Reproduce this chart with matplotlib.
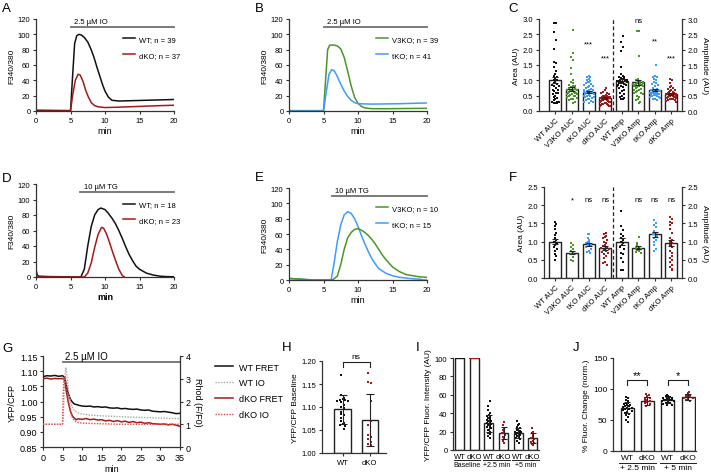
import numpy as np
import matplotlib
matplotlib.use("Agg")
import matplotlib.pyplot as plt

plt.rcParams['font.family'] = ['Liberation Sans', 'DejaVu Sans']
plt.rcParams['axes.linewidth'] = 0.9
plt.rcParams['axes.edgecolor'] = '#333333'

W, H = 711, 477

# ---------------------------------------------------------------- colours
C_WT = '#111111'
C_V3 = '#4a962a'
C_TKO = '#3d9bff'
C_DKO = '#a31a1a'
C_BAR = '#707070'

# ---------------------------------------------------------------- data: A
a_wt_t = [0, 4.9, 5.0, 5.3, 5.6, 5.9, 6.2, 6.6, 7.0, 7.5, 8.0, 8.4, 8.8, 9.3, 9.7, 10.0, 10.5, 11.0, 12, 14, 16, 18, 20]
a_wt_v = [1, 0.5, 0, 45, 88, 98, 100, 99, 96, 90, 80, 70, 58, 44, 33, 26, 18, 14, 13, 13.5, 14, 14.5, 15]
a_dko_t = [0, 5.0, 5.3, 5.7, 6.1, 6.4, 6.8, 7.2, 7.6, 8.0, 8.5, 9.0, 10, 12, 15, 18, 20]
a_dko_v = [0, 0, 20, 40, 48, 47, 39, 27, 18, 11, 7, 5.5, 4.5, 5, 6, 7, 7.5]

# ---------------------------------------------------------------- data: B
b_v3_t = [0, 5.0, 5.3, 5.6, 5.9, 6.5, 7.0, 7.5, 8.0, 8.5, 9.0, 9.5, 10.0, 10.5, 11, 12, 14, 20]
b_v3_v = [0.5, 0.5, 40, 80, 86, 86, 85, 81, 70, 52, 33, 18, 10, 6, 4, 3, 3, 3.5]
b_tko_t = [0, 5.0, 5.4, 5.8, 6.2, 6.6, 7.0, 7.5, 8.0, 8.5, 9.0, 9.5, 10, 12, 16, 20]
b_tko_v = [0, 0, 25, 48, 54, 52, 45, 35, 26, 19, 14, 11, 9.5, 9, 9.5, 10.5]

# ---------------------------------------------------------------- data: D
d_wt_t = [0, 0.15, 0.4, 2, 6.5, 7, 7.5, 8, 8.5, 9.0, 9.4, 10, 10.5, 11, 11.5, 12, 12.5, 13, 13.5, 14, 14.5, 15, 16, 17, 18, 19, 20]
d_wt_v = [10, 3, 1, 0.5, 0, 10, 40, 65, 80, 87, 89, 87, 82, 76, 69, 60, 50, 39, 29, 21, 14, 10, 5, 2.5, 1, 0.5, 0.3]
d_dko_t = [0, 0.2, 0.5, 7, 7.5, 8, 8.5, 9, 9.5, 9.8, 10.2, 10.6, 11, 11.5, 12, 12.5, 12.8]
d_dko_v = [6, 1, 0, 0, 5, 18, 38, 55, 64, 63, 56, 46, 35, 22, 10, 2, 0]

# ---------------------------------------------------------------- data: E
e_tko_t = [0, 3.4, 6.1, 6.5, 7, 7.5, 8, 8.5, 9, 9.5, 10, 10.5, 11, 11.5, 12, 12.5, 13, 14, 15, 16, 17, 18, 19, 19.5, 20]
e_tko_v = [2, 0, 0, 20, 50, 72, 85, 89, 87, 80, 70, 58, 47, 37, 28, 21, 15, 9, 5.5, 3.5, 2.5, 1.5, 1, 0, 0]
e_v3_t = [0, 1, 2, 3.4, 6.3, 7, 7.5, 8, 8.5, 9, 9.5, 10, 10.5, 11, 11.5, 12, 12.5, 13, 13.5, 14, 14.5, 15, 16, 17, 18, 19, 20]
e_v3_v = [2, 1.5, 1, 0, 0, 5, 20, 40, 55, 62, 66, 67, 65, 62, 58, 53, 47, 40, 33, 27, 22, 17, 11, 7, 5.5, 4, 3.5]

# ---------------------------------------------------------------- data: C / F
group_labels = ['WT AUC', 'V3KO AUC', 'tKO AUC', 'dKO AUC', 'WT Amp', 'V3KO Amp', 'tKO Amp', 'dKO Amp']
group_colors = [C_WT, C_V3, C_TKO, C_DKO, C_WT, C_V3, C_TKO, C_DKO]

c_points = [
    [2.87, 2.87, 2.58, 2.33, 2.02, 1.6, 1.55, 1.45, 1.3, 1.2, 1.15, 1.1, 1.05, 1.02, 1.0, 0.95, 0.9, 0.88, 0.85, 0.82,
     0.8, 0.75, 0.7, 0.65, 0.6, 0.55, 0.5, 0.45, 0.42, 0.38, 0.35, 0.3, 0.28, 0.27, 0.25, 0.25, 0.3, 0.6, 0.7],
    [2.65, 1.9, 1.75, 1.67, 1.4, 1.2, 1.0, 0.95, 0.9, 0.85, 0.82, 0.8, 0.78, 0.75, 0.73, 0.7, 0.7, 0.68, 0.66, 0.65,
     0.63, 0.62, 0.6, 0.6, 0.58, 0.56, 0.55, 0.54, 0.52, 0.5, 0.5, 0.48, 0.45, 0.42, 0.4, 0.38, 0.35, 0.3, 0.25],
    [1.15, 1.12, 1.1, 1.05, 1.0, 0.98, 0.95, 0.93, 0.9, 0.88, 0.85, 0.82, 0.8, 0.78, 0.75, 0.72, 0.7, 0.68, 0.65, 0.63,
     0.6, 0.58, 0.55, 0.53, 0.5, 0.48, 0.45, 0.43, 0.4, 0.38, 0.35, 0.33, 0.3, 0.28, 0.25, 0.6, 0.62, 0.55, 0.5, 0.45, 0.7],
    [0.75, 0.68, 0.62, 0.6, 0.58, 0.55, 0.53, 0.5, 0.5, 0.48, 0.47, 0.45, 0.44, 0.43, 0.42, 0.4, 0.4, 0.38, 0.37, 0.36,
     0.35, 0.34, 0.32, 0.3, 0.3, 0.28, 0.27, 0.25, 0.24, 0.23, 0.22, 0.2, 0.18, 0.17, 0.16, 0.15, 0.45],
    [2.45, 2.25, 2.1, 1.95, 1.45, 1.2, 1.15, 1.12, 1.1, 1.08, 1.05, 1.03, 1.0, 1.0, 0.98, 0.97, 0.95, 0.93, 0.92, 0.9,
     0.9, 0.88, 0.86, 0.85, 0.83, 0.8, 0.78, 0.75, 0.7, 0.65, 0.6, 0.55, 0.5, 0.45, 0.42, 0.4, 0.4, 0.95, 1.0],
    [2.62, 2.6, 1.78, 1.05, 1.0, 0.98, 0.95, 0.93, 0.92, 0.9, 0.9, 0.88, 0.87, 0.86, 0.85, 0.84, 0.83, 0.82, 0.8, 0.78,
     0.75, 0.72, 0.7, 0.68, 0.65, 0.62, 0.6, 0.58, 0.55, 0.5, 0.45, 0.4, 0.35, 0.3, 0.25, 0.9, 0.88, 0.8, 0.95],
    [1.5, 1.15, 1.12, 1.1, 1.05, 1.0, 0.95, 0.9, 0.88, 0.85, 0.8, 0.75, 0.72, 0.7, 0.68, 0.65, 0.63, 0.62, 0.6, 0.6,
     0.58, 0.57, 0.56, 0.55, 0.55, 0.54, 0.53, 0.52, 0.5, 0.5, 0.48, 0.47, 0.45, 0.43, 0.4, 0.38, 0.35, 0.6, 0.58, 0.65, 0.7],
    [1.05, 1.0, 0.9, 0.8, 0.78, 0.75, 0.72, 0.7, 0.68, 0.65, 0.63, 0.62, 0.6, 0.58, 0.57, 0.56, 0.55, 0.54, 0.53, 0.52,
     0.5, 0.5, 0.48, 0.47, 0.46, 0.45, 0.44, 0.43, 0.42, 0.4, 0.4, 0.38, 0.36, 0.35, 0.33, 0.3, 0.5],
]
c_means = [1.02, 0.72, 0.62, 0.42, 0.98, 0.93, 0.68, 0.55]
c_sem = [0.10, 0.07, 0.04, 0.03, 0.07, 0.08, 0.04, 0.03]
c_sig = [None, None, '***', '***', None, 'ns', '**', '***']
c_sig_y = [0, 0, 2.2, 1.72, 0, 2.95, 2.28, 1.72]

f_points = [
    [1.55, 1.48, 1.42, 1.35, 1.25, 1.18, 1.1, 1.05, 1.0, 0.98, 0.95, 0.9, 0.85, 0.8, 0.75, 0.65, 0.6, 0.5],
    [0.95, 0.92, 0.85, 0.8, 0.75, 0.7, 0.65, 0.58, 0.5, 0.48],
    [1.22, 1.2, 1.1, 1.05, 1.0, 0.98, 0.95, 0.92, 0.9, 0.88, 0.85, 0.8, 0.75, 0.72, 0.7],
    [1.25, 1.22, 1.15, 1.12, 1.1, 1.05, 1.0, 0.95, 0.9, 0.88, 0.85, 0.82, 0.8, 0.78, 0.75, 0.72, 0.7, 0.65, 0.6,
     0.55, 0.45, 0.4, 0.35],
    [1.85, 1.42, 1.32, 1.2, 1.15, 1.1, 1.05, 1.0, 0.95, 0.9, 0.85, 0.8, 0.7, 0.65, 0.55, 0.45, 0.22, 0.22],
    [1.12, 0.95, 0.9, 0.85, 0.82, 0.8, 0.78, 0.75, 0.72, 0.7],
    [1.6, 1.5, 1.45, 1.4, 1.3, 1.25, 1.22, 1.2, 1.15, 1.1, 1.05, 1.0, 0.9, 0.8, 0.75],
    [1.68, 1.62, 1.55, 1.5, 1.45, 1.35, 1.25, 1.1, 1.05, 1.0, 0.95, 0.9, 0.85, 0.75, 0.7, 0.6, 0.55, 0.5, 0.45,
     0.35, 0.3, 0.25, 0.22],
]
f_means = [1.0, 0.70, 0.93, 0.82, 1.0, 0.83, 1.2, 0.96]
f_sem = [0.07, 0.05, 0.04, 0.05, 0.10, 0.04, 0.06, 0.09]
f_sig = [None, '*', 'ns', 'ns', None, 'ns', 'ns', 'ns']

# ---------------------------------------------------------------- data: G
g_t = [0, 1, 2, 3, 4, 5, 5.5, 6, 6.5, 7, 7.5, 8, 8.5, 9, 10, 11, 12, 13, 14, 15, 16, 17, 18, 19, 20,
       21, 22, 23, 24, 25, 26, 27, 28, 29, 30, 31, 32, 33, 34, 35]
g_wt_fret = [1.082, 1.085, 1.084, 1.086, 1.083, 1.085, 1.08, 1.05, 1.025, 1.008, 0.998, 0.992, 0.99, 0.988, 0.985,
             0.984, 0.985, 0.982, 0.983, 0.981, 0.982, 0.979, 0.978, 0.979, 0.976, 0.977, 0.975, 0.974, 0.975,
             0.972, 0.971, 0.972, 0.968, 0.967, 0.966, 0.967, 0.965, 0.963, 0.96, 0.961]
g_dko_fret = [1.075, 1.077, 1.074, 1.076, 1.075, 1.076, 1.07, 1.03, 0.995, 0.968, 0.952, 0.945, 0.94, 0.943, 0.941,
              0.944, 0.94, 0.942, 0.939, 0.94, 0.936, 0.938, 0.934, 0.937, 0.933, 0.935, 0.931, 0.934, 0.93,
              0.932, 0.928, 0.93, 0.927, 0.926, 0.925, 0.926, 0.923, 0.925, 0.922, 0.918]
g_io_t_wt = [0, 5.0, 5.2, 5.5, 5.8, 6.1, 6.5, 7, 7.5, 8, 9, 10, 12, 15, 20, 25, 30, 35]
g_wt_io = [1.0, 1.0, 1.3, 2.8, 3.5, 3.2, 2.5, 2.0, 1.75, 1.6, 1.5, 1.45, 1.4, 1.37, 1.33, 1.3, 1.27, 1.25]
g_io_t_dko = [0, 5.0, 5.1, 5.3, 5.6, 6, 6.5, 7, 7.5, 8, 9, 10, 15, 20, 25, 30, 35]
g_dko_io = [1.0, 1.0, 2.0, 3.0, 3.1, 2.7, 2.1, 1.6, 1.3, 1.15, 1.08, 1.05, 1.02, 1.0, 1.0, 1.0, 1.0]

# ---------------------------------------------------------------- data: H
h_labels = ['WT', 'dKO']
h_wt = [1.17, 1.125, 1.12, 1.118, 1.115, 1.115, 1.113, 1.112, 1.11, 1.105, 1.1, 1.098, 1.09, 1.085, 1.082,
        1.075, 1.07, 1.065, 1.063, 1.06, 1.058, 1.052]
h_dko = [1.173, 1.155, 1.152, 1.113, 1.07, 1.06, 1.04, 1.035, 1.03, 1.025, 1.02, 1.018]
h_means = [1.095, 1.072]
h_sd = [0.032, 0.057]

# ---------------------------------------------------------------- data: I
i_labels = ['WT', 'dKO', 'WT', 'dKO', 'WT', 'dKO']
i_groups = ['Baseline', '+2.5 min', '+5 min']
i_points = [
    [100] * 24,
    [100] * 12,
    [53, 48, 43, 40, 38, 37, 36, 35, 34, 33, 32, 31, 30, 29, 28, 27, 26, 25, 24, 22, 20, 19, 17, 15, 13],
    [30, 27, 24, 22, 20, 19, 18, 16, 14, 12, 10, 8],
    [31, 28, 27, 25, 24, 23, 22, 21, 20, 20, 19, 18, 17, 16, 15, 14, 13, 12, 10, 8],
    [24, 20, 18, 16, 14, 13, 12, 10, 9, 8, 6, 5],
]
i_means = [100, 100, 29, 19, 18.5, 13]
i_sd = [0, 0, 9.5, 6.5, 5.5, 5]

# ---------------------------------------------------------------- data: J
j_labels = ['WT', 'dKO', 'WT', 'dKO']
j_groups = ['+ 2.5 min', '+ 5 min']
j_points = [
    [87, 85, 83, 80, 78, 77, 76, 75, 74, 73, 72, 71, 70, 69, 68, 67, 66, 65, 63, 62, 60, 58, 55, 50, 47],
    [92, 90, 88, 86, 85, 83, 82, 80, 79, 77, 76, 72],
    [90, 89, 88, 87, 86, 85, 84, 84, 83, 83, 82, 82, 81, 80, 79, 78, 77, 76, 75, 74],
    [95, 93, 91, 90, 89, 88, 87, 86, 85, 84, 82, 80],
]
j_means = [70, 81, 82, 87]
j_sd = [9, 6, 5, 5]
j_sig = ['**', '*']


# ---------------------------------------------------------------- helpers
fig = plt.figure(figsize=(W / 100, H / 100), dpi=100)


def add_ax(x0, y0, x1, y1):
    return fig.add_axes([x0 / W, 1 - y1 / H, (x1 - x0) / W, (y1 - y0) / H])


def style(ax, fs=5.5):
    ax.spines['top'].set_visible(False)
    ax.spines['right'].set_visible(False)
    ax.tick_params(labelsize=fs, length=2.5, width=0.8, color='#333333', pad=1.5)


def swarm(vals, center, half, bin_h, step):
    # spread points sharing a value band sideways, like a Prism scatter-dot column
    vals = np.asarray(vals, dtype=float)
    xs = np.full(len(vals), float(center))
    bins = np.floor(vals / bin_h).astype(int)
    for b in np.unique(bins):
        idx = np.where(bins == b)[0]
        n = len(idx)
        if n == 1:
            xs[idx] = center + (0.5 * step if b % 2 else -0.5 * step)
            continue
        s = min(step, 2 * half / (n - 1))
        offs = (np.arange(n) - (n - 1) / 2) * s
        xs[idx] = center + offs[np.argsort(np.abs(offs))]
    return xs


def trace_panel(ax, series, bar_x0, bar_label, bold_x=False):
    for t, v, c, lab in series:
        ax.plot(t, v, color=c, lw=1.1, label=lab)
    ax.set_xlim(0, 20)
    ax.set_ylim(0, 120)
    ax.set_xticks([0, 5, 10, 15, 20])
    ax.set_yticks([0, 20, 40, 60, 80, 100, 120])
    ax.plot([bar_x0, 20], [110, 110], color=C_BAR, lw=1.3, clip_on=False)
    ax.text(bar_x0 + 0.5, 112, bar_label, fontsize=5.5, va='bottom', ha='left')
    ax.set_ylabel('F340/380', fontsize=6, labelpad=2)
    ax.set_xlabel('min', fontsize=6.5, labelpad=2, fontweight='bold' if bold_x else 'normal')
    style(ax)
    ax.legend(loc='upper left', bbox_to_anchor=(0.6, 0.86), frameon=False, fontsize=5.5,
              handlelength=1.6, labelspacing=1.1, borderpad=0, handletextpad=0.6)


def dot_bar_panel(ax, points, means, sem, ymax, xlim, sig, sig_y, ylabel_l, ylabel_r):
    x = np.arange(len(points))
    ax.bar(x, means, width=0.72, color='white', edgecolor='#222222', linewidth=1.0, zorder=1)
    for i, pts in enumerate(points):
        xs = swarm(pts, i, 0.3, ymax / 22, 0.11)
        ax.scatter(xs, pts, s=2.5, marker='s', color=group_colors[i], linewidths=0, zorder=3)
    ax.errorbar(x, means, yerr=sem, fmt='none', ecolor='#222222', elinewidth=0.8, capsize=2, capthick=0.8, zorder=4)
    ax.axvline(3.5, color='#222222', lw=0.9, ls=(0, (3, 2)))
    for i, s in enumerate(sig):
        if s:
            ax.text(i, sig_y[i], s, ha='center', va='center', fontsize=5.5)
    ax.set_xlim(*xlim)
    ax.set_ylim(0, ymax)
    ticks = np.arange(0, ymax + 0.01, 0.5)
    ax.set_yticks(ticks)
    ax.set_yticklabels([f'{t:.1f}' for t in ticks])
    ax.set_xticks(x)
    ax.set_xticklabels(group_labels, rotation=45, ha='right', rotation_mode='anchor')
    ax.set_ylabel(ylabel_l, fontsize=6, labelpad=2)
    style(ax)
    ax2 = ax.twinx()
    ax2.set_ylim(0, ymax)
    ax2.set_yticks(ticks)
    ax2.set_yticklabels([f'{t:.1f}' for t in ticks])
    for sp in ['top', 'left', 'bottom']:
        ax2.spines[sp].set_visible(False)
    ax2.tick_params(labelsize=5.5, length=2.5, width=0.8, color='#333333', pad=1.5)
    ax2.set_ylabel(ylabel_r, fontsize=6, rotation=270, labelpad=7)


# ---------------------------------------------------------------- A
axA = add_ax(36, 20, 174, 112)
trace_panel(axA, [(a_wt_t, a_wt_v, C_WT, 'WT; n = 39'), (a_dko_t, a_dko_v, C_DKO, 'dKO; n = 37')],
            5, '2.5 µM IO')

# ---------------------------------------------------------------- B
axB = add_ax(289, 20, 427, 112)
trace_panel(axB, [(b_v3_t, b_v3_v, C_V3, 'V3KO; n = 39'), (b_tko_t, b_tko_v, C_TKO, 'tKO; n = 41')],
            5, '2.5 µM IO')

# ---------------------------------------------------------------- C
axC = add_ax(539, 20, 682, 112)
dot_bar_panel(axC, c_points, c_means, c_sem, 3.0, (-0.99, 7.64), c_sig, c_sig_y, 'Area (AU)', 'Amplitude (AU)')

# ---------------------------------------------------------------- D
axD = add_ax(36, 185, 174, 278)
trace_panel(axD, [(d_wt_t, d_wt_v, C_WT, 'WT; n = 18'), (d_dko_t, d_dko_v, C_DKO, 'dKO; n = 23')],
            6.4, '10 µM TG', bold_x=True)

# ---------------------------------------------------------------- E
axE = add_ax(289, 189, 427, 281)
trace_panel(axE, [(e_tko_t, e_tko_v, C_TKO, 'tKO; n = 15'), (e_v3_t, e_v3_v, C_V3, 'V3KO; n = 10')],
            6.2, '10 µM TG')
hE, lE = axE.get_legend_handles_labels()
axE.legend(hE[::-1], lE[::-1], loc='upper left', bbox_to_anchor=(0.6, 0.86), frameon=False, fontsize=5.5,
           handlelength=1.6, labelspacing=1.1, borderpad=0, handletextpad=0.6)

# ---------------------------------------------------------------- F
axF = add_ax(544, 188, 682, 279)
dot_bar_panel(axF, f_points, f_means, f_sem, 2.5, (-0.69, 7.64), f_sig, [2.15] * 8, 'Area (AU)', 'Amplitude (AU)')

# ---------------------------------------------------------------- G
axG = add_ax(43, 357, 180, 448)
axG.plot(g_t, g_wt_fret, color=C_WT, lw=1.1, label='WT FRET', zorder=3)
axG.plot(g_t, g_dko_fret, color=C_DKO, lw=1.1, label='dKO FRET', zorder=3)
axG.set_xlim(0, 35)
axG.set_ylim(0.85, 1.15)
axG.set_xticks(range(0, 36, 5))
gy = [0.85, 0.90, 0.95, 1.00, 1.05, 1.10, 1.15]
axG.set_yticks(gy)
axG.set_yticklabels([f'{v:.2f}' for v in gy])
axG.set_ylabel('YFP/CFP', fontsize=6.5, labelpad=2)
axG.set_xlabel('min', fontsize=6.5, labelpad=2)
style(axG, 6.5)
axG.plot([5, 35], [1.13, 1.13], color=C_BAR, lw=1.3, clip_on=False)
axG.text(5.5, 1.133, '2.5 µM IO', fontsize=7, va='bottom')
axG2 = axG.twinx()
axG2.plot(g_io_t_wt, g_wt_io, color='#a8a8a8', lw=1.0, ls=(0, (1, 1)), label='WT IO')
axG2.plot(g_io_t_dko, g_dko_io, color='#e8454a', lw=1.0, ls=(0, (1, 1)), label='dKO IO')
axG2.set_ylim(0, 4)
axG2.set_yticks([0, 1, 2, 3, 4])
for sp in ['top', 'left', 'bottom']:
    axG2.spines[sp].set_visible(False)
axG2.tick_params(labelsize=6.5, length=2.5, width=0.8, color='#333333', pad=1.5)
axG2.set_ylabel('Rhod (F/F0)', fontsize=6.5, rotation=270, labelpad=8)
h1, l1 = axG.get_legend_handles_labels()
h2, l2 = axG2.get_legend_handles_labels()
fig.legend([h1[0], h2[0], h1[1], h2[1]], [l1[0], l2[0], l1[1], l2[1]], loc='upper left',
           bbox_to_anchor=(210 / W, 1 - 359 / H), frameon=False, fontsize=6.5, handlelength=2.0,
           labelspacing=0.75, borderpad=0, handletextpad=0.7)

# ---------------------------------------------------------------- H
axH = add_ax(322, 362, 386, 454)
hx = np.arange(2)
axH.bar(hx, np.array(h_means) - 1.0, bottom=1.0, width=0.59, color='white', edgecolor='#222222', lw=1.0)
for i, (pts, c) in enumerate(zip([h_wt, h_dko], [C_WT, C_DKO])):
    axH.scatter(swarm(pts, i, 0.25, 0.008, 0.1), pts, s=2.5, marker='s', color=c, linewidths=0, zorder=3)
axH.errorbar(hx, h_means, yerr=h_sd, fmt='none', ecolor='#222222', elinewidth=0.8, capsize=3, capthick=0.8, zorder=4)
axH.set_xlim(-0.75, 1.59)
axH.set_ylim(1.0, 1.2)
axH.set_yticks([1.00, 1.05, 1.10, 1.15, 1.20])
axH.set_yticklabels(['1.00', '1.05', '1.10', '1.15', '1.20'])
axH.set_xticks(hx)
axH.set_xticklabels(h_labels)
axH.set_ylabel('YFP/CFP Baseline', fontsize=6, labelpad=2)
style(axH)
axH.plot([0, 0, 1, 1], [1.186, 1.197, 1.197, 1.186], color='#222222', lw=0.8, clip_on=False)
axH.text(0.5, 1.203, 'ns', ha='center', va='bottom', fontsize=6)

# ---------------------------------------------------------------- I
axI = add_ax(453, 359, 539, 451)
ix = np.arange(6)
i_cols = [C_WT, C_DKO] * 3
axI.bar(ix, i_means, width=0.62, color='white', edgecolor='#222222', lw=1.0)
for i, pts in enumerate(i_points):
    axI.scatter(swarm(pts, i, 0.27, 4.0, 0.1), pts, s=2.5, marker='s', color=i_cols[i], linewidths=0, zorder=3)
axI.errorbar(ix[2:], i_means[2:], yerr=i_sd[2:], fmt='none', ecolor='#222222', elinewidth=0.8, capsize=2,
             capthick=0.8, zorder=4)
axI.set_xlim(-0.46, 5.43)
axI.set_ylim(0, 100)
axI.set_yticks(range(0, 101, 20))
axI.set_xticks(ix)
axI.set_xticklabels(i_labels)
axI.set_ylabel('YFP/CFP Fluor. Intensity (AU)', fontsize=6, labelpad=2)
style(axI, 5.5)
axI.tick_params(axis='x', length=0, pad=2)
tI = axI.get_xaxis_transform()
for g, name in enumerate(i_groups):
    axI.plot([2 * g - 0.42, 2 * g + 1.42], [-0.105, -0.105], color='#222222', lw=0.7, transform=tI, clip_on=False)
    axI.text(2 * g + 0.5, -0.125, name, transform=tI, ha='center', va='top', fontsize=5)

# ---------------------------------------------------------------- J
axJ = add_ax(613, 359, 696, 452)
jx = np.arange(4)
j_cols = [C_WT, C_DKO] * 2
axJ.bar(jx, j_means, width=0.64, color='white', edgecolor='#222222', lw=1.0)
for i, pts in enumerate(j_points):
    axJ.scatter(swarm(pts, i, 0.28, 5.0, 0.11), pts, s=2.5, marker='s', color=j_cols[i], linewidths=0, zorder=3)
axJ.errorbar(jx, j_means, yerr=j_sd, fmt='none', ecolor='#222222', elinewidth=0.8, capsize=2, capthick=0.8, zorder=4)
axJ.set_xlim(-0.69, 3.38)
axJ.set_ylim(0, 150)
axJ.set_yticks([0, 50, 100, 150])
axJ.set_xticks(jx)
axJ.set_xticklabels(j_labels)
axJ.set_ylabel('% Fluor. Change (norm.)', fontsize=6, labelpad=2)
style(axJ, 6)
axJ.tick_params(axis='x', length=0, pad=2)
tJ = axJ.get_xaxis_transform()
for g, name in enumerate(j_groups):
    axJ.plot([2 * g - 0.4, 2 * g + 1.4], [-0.125, -0.125], color='#222222', lw=0.7, transform=tJ, clip_on=False)
    axJ.text(2 * g + 0.5, -0.145, name, transform=tJ, ha='center', va='top', fontsize=6)
    axJ.plot([2 * g, 2 * g, 2 * g + 1, 2 * g + 1], [106, 115, 115, 106], color='#222222', lw=0.8)
    axJ.text(2 * g + 0.5, 115, j_sig[g], ha='center', va='bottom', fontsize=8)

# ---------------------------------------------------------------- panel letters
for lab, px, py in [('A', 2, 3), ('B', 255, 3), ('C', 508, 3), ('D', 2, 173), ('E', 255, 172),
                    ('F', 509, 172), ('G', 2, 343), ('H', 282, 342), ('I', 416, 342), ('J', 573, 342)]:
    fig.text(px / W, 1 - py / H, lab, fontsize=9.5, va='top', ha='left')

fig.savefig('out.png', dpi=100)
